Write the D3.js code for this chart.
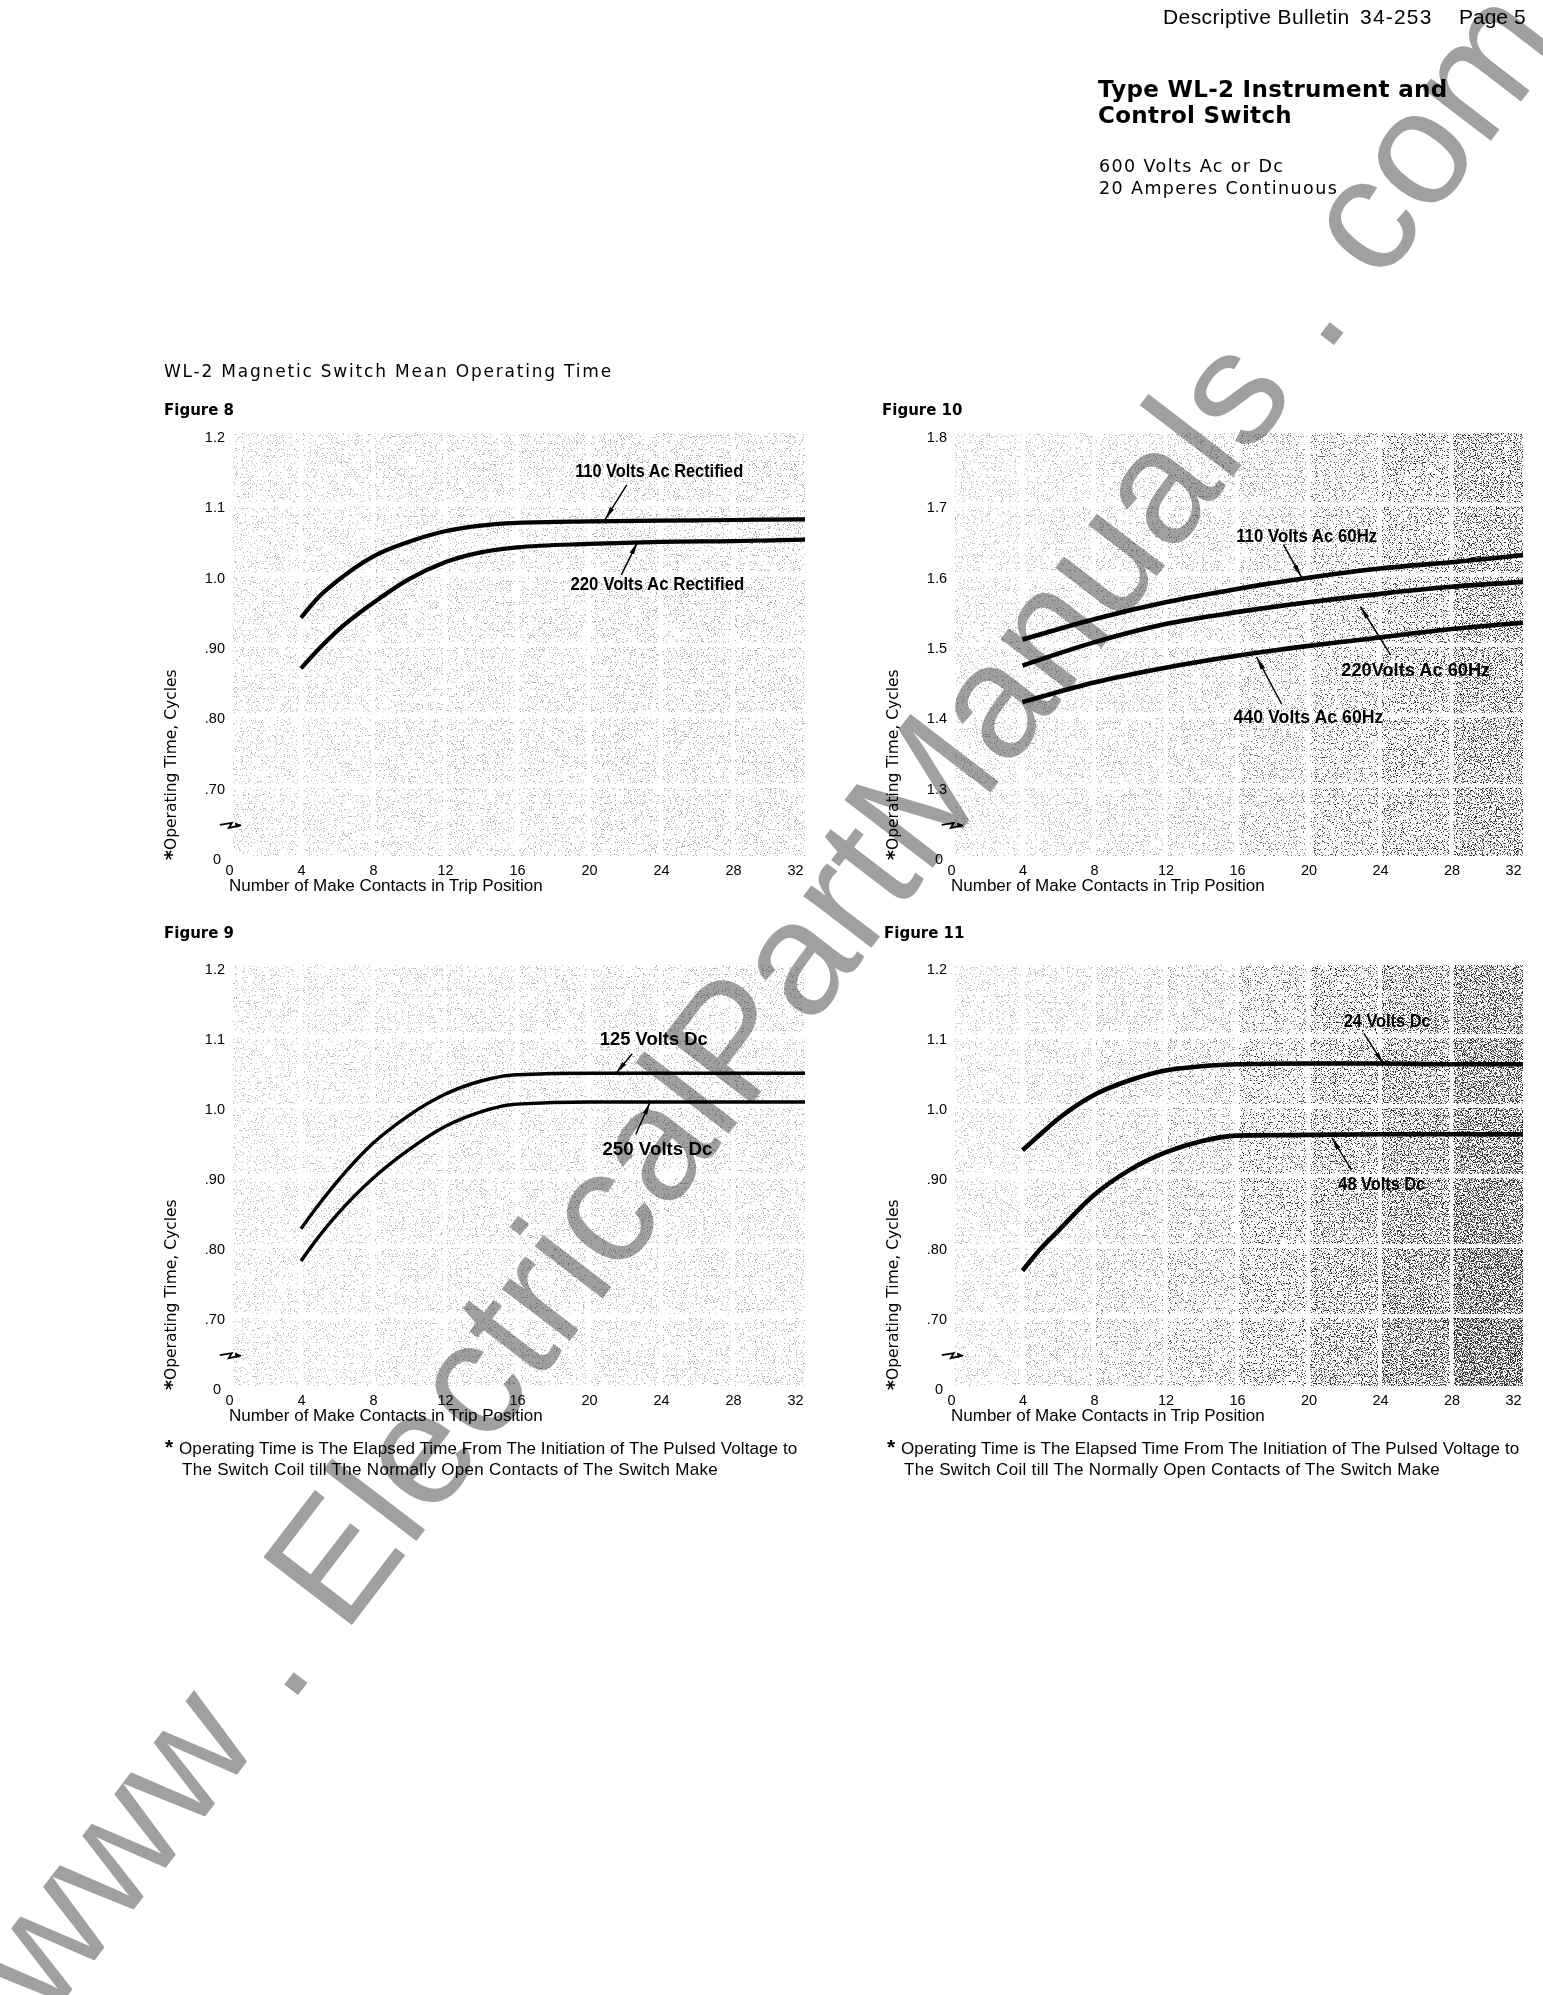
<!DOCTYPE html>
<html>
<head>
<meta charset="utf-8">
<script src="https://cdn.jsdelivr.net/npm/d3@7"></script>
<style>
  body { margin: 0; background: #fff; }
  svg text { fill: #000; }
  .tick text { font-family: "Liberation Sans", Arial, sans-serif; font-size: 14.5px; }
  .callout { font-family: "Liberation Sans", Arial, sans-serif; font-weight: bold; font-size: 18px; }
  .xtitle, .note, .helv { font-family: "Liberation Sans", Arial, sans-serif; }
  .wide { font-family: "DejaVu Sans", sans-serif; }
</style>
</head>
<body>
<svg id="page"></svg>
<script>
// Axis ticks shared by all four figures
var contactTicks = [0, 4, 8, 12, 16, 20, 24, 28, 32];
var lowTicks = [0.6, 0.7, 0.8, 0.9, 1.0, 1.1, 1.2];
var lowTickLabels = ["0", ".70", ".80", ".90", "1.0", "1.1", "1.2"];
var highTicks = [1.2, 1.3, 1.4, 1.5, 1.6, 1.7, 1.8];
var highTickLabels = ["0", "1.3", "1.4", "1.5", "1.6", "1.7", "1.8"];

// Figure 8 - rectified ac
var fig8Contacts = [4, 5, 6, 8, 10, 12, 14, 16, 20, 24, 28, 32];
var fig8Volts110 = [0.943, 0.973, 0.995, 1.030, 1.051, 1.066, 1.074, 1.078, 1.080, 1.081, 1.082, 1.083];
var fig8Volts220 = [0.871, 0.899, 0.924, 0.964, 0.998, 1.022, 1.036, 1.043, 1.048, 1.051, 1.052, 1.054];

// Figure 9 - dc
var fig9Contacts = [4, 5, 6, 8, 10, 12, 14, 16, 20, 24, 28, 32];
var fig9Volts125 = [0.829, 0.864, 0.896, 0.951, 0.991, 1.021, 1.040, 1.049, 1.051, 1.051, 1.051, 1.051];
var fig9Volts250 = [0.783, 0.818, 0.849, 0.901, 0.942, 0.975, 0.996, 1.007, 1.010, 1.010, 1.010, 1.010];

// Figure 10 - ac 60 Hz
var fig10Contacts = [4, 8, 12, 16, 20, 24, 28, 32];
var fig10Volts110 = [1.512, 1.541, 1.565, 1.584, 1.600, 1.613, 1.622, 1.632];
var fig10Volts220 = [1.475, 1.508, 1.534, 1.551, 1.565, 1.577, 1.587, 1.594];
var fig10Volts440 = [1.423, 1.451, 1.472, 1.489, 1.503, 1.515, 1.527, 1.536];

// Figure 11 - low voltage dc
var fig11Contacts = [4, 5, 6, 8, 10, 12, 14, 16, 20, 24, 28, 32];
var fig11Volts24 = [0.941, 0.964, 0.986, 1.020, 1.041, 1.055, 1.061, 1.064, 1.065, 1.065, 1.064, 1.064];
var fig11Volts48 = [0.769, 0.800, 0.826, 0.877, 0.913, 0.938, 0.954, 0.962, 0.963, 0.964, 0.964, 0.964];

var footnoteLines = [
  "Operating Time is The Elapsed Time From The Initiation of The Pulsed Voltage to",
  "The Switch Coil till The Normally Open Contacts of The Switch Make"
];

function zipSeries(xs, ys) {
  return xs.map(function(x, i) { return [x, ys[i]]; });
}

var figures = [
  {
    name: "Figure 8", labelX: 164, labelY: 415,
    left: 229, right: 805, top: 437, bottom: 859,
    domain: [0.6, 1.2], ticks: lowTicks, labels: lowTickLabels, stroke: 4.2,
    shade: [0.07, 0.07, 0.075, 0.08, 0.08, 0.085, 0.085, 0.085], rowShade: 0,
    series: [zipSeries(fig8Contacts, fig8Volts110), zipSeries(fig8Contacts, fig8Volts220)],
    callouts: [
      { text: "110 Volts Ac Rectified", width: 168, at: [23.9, 1.152], from: [22.1, 1.132], to: [20.9, 1.083] },
      { text: "220 Volts Ac Rectified", width: 174, at: [23.8, 0.991], from: [21.8, 1.004], to: [22.7, 1.051] }
    ],
    footnote: false
  },
  {
    name: "Figure 9", labelX: 164, labelY: 938,
    left: 229, right: 805, top: 969, bottom: 1389,
    domain: [0.6, 1.2], ticks: lowTicks, labels: lowTickLabels, stroke: 3.4,
    shade: [0.065, 0.065, 0.07, 0.075, 0.075, 0.08, 0.08, 0.08], rowShade: 0,
    series: [zipSeries(fig9Contacts, fig9Volts125), zipSeries(fig9Contacts, fig9Volts250)],
    callouts: [
      { text: "125 Volts Dc", width: 108, at: [23.6, 1.101], from: [22.4, 1.079], to: [21.5, 1.051] },
      { text: "250 Volts Dc", width: 110, at: [23.8, 0.943], from: [22.6, 0.964], to: [23.4, 1.010] }
    ],
    footnote: true
  },
  {
    name: "Figure 10", labelX: 882, labelY: 415,
    left: 951, right: 1523, top: 437, bottom: 859,
    domain: [1.2, 1.8], ticks: highTicks, labels: highTickLabels, stroke: 4.6,
    shade: [0.07, 0.075, 0.08, 0.09, 0.12, 0.16, 0.23, 0.34], rowShade: 0.03,
    series: [zipSeries(fig10Contacts, fig10Volts110), zipSeries(fig10Contacts, fig10Volts220), zipSeries(fig10Contacts, fig10Volts440)],
    callouts: [
      { text: "110 Volts Ac 60Hz", width: 141, at: [19.9, 1.660], from: [18.6, 1.647], to: [19.6, 1.601] },
      { text: "220Volts Ac 60Hz", width: 149, at: [26.0, 1.470], from: [24.6, 1.490], to: [22.9, 1.559] },
      { text: "440 Volts Ac 60Hz", width: 150, at: [20.0, 1.403], from: [18.5, 1.420], to: [17.1, 1.487] }
    ],
    footnote: false
  },
  {
    name: "Figure 11", labelX: 884, labelY: 938,
    left: 951, right: 1523, top: 969, bottom: 1389,
    domain: [0.6, 1.2], ticks: lowTicks, labels: lowTickLabels, stroke: 4.6,
    shade: [0.07, 0.08, 0.09, 0.11, 0.17, 0.26, 0.36, 0.46], rowShade: 0.12,
    series: [zipSeries(fig11Contacts, fig11Volts24), zipSeries(fig11Contacts, fig11Volts48)],
    callouts: [
      { text: "24 Volts Dc", width: 87, at: [24.4, 1.126], from: [23.1, 1.108], to: [24.2, 1.064] },
      { text: "48 Volts Dc", width: 87, at: [24.1, 0.893], from: [22.4, 0.913], to: [21.3, 0.959] }
    ],
    footnote: true
  }
];

var svg = d3.select("#page")
  .attr("width", 1543)
  .attr("height", 1995);

var defs = svg.append("defs");

// Stipple screen: noise thresholded against the alpha of each shaded cell
var stipple = defs.append("filter")
  .attr("id", "stipple")
  .attr("x", 0).attr("y", 0).attr("width", 1).attr("height", 1)
  .attr("color-interpolation-filters", "sRGB");
stipple.append("feTurbulence")
  .attr("type", "fractalNoise")
  .attr("baseFrequency", 0.85)
  .attr("numOctaves", 2)
  .attr("seed", 7)
  .attr("result", "noise");
stipple.append("feColorMatrix")
  .attr("in", "noise")
  .attr("type", "matrix")
  .attr("values", "0 0 0 0 0  0 0 0 0 0  0 0 0 0 0  3 0 0 0 -1")
  .attr("result", "grain");
stipple.append("feComposite")
  .attr("in", "SourceAlpha").attr("in2", "grain")
  .attr("operator", "arithmetic")
  .attr("k1", 0).attr("k2", 1).attr("k3", -1).attr("k4", 0)
  .attr("result", "diff");
stipple.append("feComponentTransfer")
  .attr("in", "diff")
  .attr("result", "dots")
  .append("feFuncA").attr("type", "linear").attr("slope", 5).attr("intercept", 0);
stipple.append("feFlood").attr("flood-color", "#333").attr("result", "ink");
stipple.append("feComposite").attr("in", "ink").attr("in2", "dots").attr("operator", "in");

// Narrow arrow head for the curve callouts
defs.append("marker")
  .attr("id", "barb")
  .attr("viewBox", "0 0 13 6")
  .attr("refX", 13).attr("refY", 3)
  .attr("markerWidth", 13).attr("markerHeight", 6)
  .attr("markerUnits", "userSpaceOnUse")
  .attr("orient", "auto")
  .append("path")
  .attr("d", "M0,0.6 L13,3 L0,5.4 Z")
  .attr("fill", "#000");

// Page header
var header = svg.append("g");
header.append("text").attr("class", "helv").attr("x", 1163).attr("y", 24).attr("font-size", 21)
  .attr("letter-spacing", 0.4).text("Descriptive Bulletin");
header.append("text").attr("class", "helv").attr("x", 1360).attr("y", 24).attr("font-size", 21)
  .attr("letter-spacing", 1.2).text("34-253");
header.append("text").attr("class", "helv").attr("x", 1459).attr("y", 24).attr("font-size", 21)
  .text("Page 5");
header.append("text").attr("class", "wide").attr("x", 1098).attr("y", 97).attr("font-size", 23)
  .attr("font-weight", "bold").attr("letter-spacing", 0.3).text("Type WL-2 Instrument and");
header.append("text").attr("class", "wide").attr("x", 1098).attr("y", 123).attr("font-size", 23)
  .attr("font-weight", "bold").attr("letter-spacing", 0.3).text("Control Switch");
header.append("text").attr("class", "wide").attr("x", 1099).attr("y", 172).attr("font-size", 17.5)
  .attr("letter-spacing", 1.4).text("600 Volts Ac or Dc");
header.append("text").attr("class", "wide").attr("x", 1099).attr("y", 194).attr("font-size", 17.5)
  .attr("letter-spacing", 1.4).text("20 Amperes Continuous");
header.append("text").attr("class", "wide").attr("x", 164).attr("y", 377).attr("font-size", 17)
  .attr("letter-spacing", 1.8).text("WL-2 Magnetic Switch Mean Operating Time");

function drawFigure(fig) {
  var x = d3.scaleLinear().domain([0, 32]).range([fig.left, fig.right]);
  var y = d3.scaleLinear().domain(fig.domain).range([fig.bottom, fig.top]);
  var step = (fig.domain[1] - fig.domain[0]) / 6;

  var g = svg.append("g");

  // Figure number
  g.append("text")
    .attr("class", "wide")
    .attr("x", fig.labelX)
    .attr("y", fig.labelY)
    .attr("font-size", 15)
    .attr("font-weight", "bold")
    .text(fig.name);

  // Screened background cells, with white gutters on the grid lines
  var cells = [];
  for (var c = 0; c < 8; c++) {
    for (var r = 0; r < 6; r++) {
      cells.push({ col: c, row: r });
    }
  }
  g.append("g")
    .attr("filter", "url(#stipple)")
    .selectAll("rect")
    .data(cells)
    .enter()
    .append("rect")
    .attr("x", function(d) { return x(d.col * 4) + (d.col === 0 ? 4 : 2); })
    .attr("width", function(d) {
      return x(d.col * 4 + 4) - x(d.col * 4) - (d.col === 0 ? 4 : 2) - (d.col === 7 ? 0 : 2);
    })
    .attr("y", function(d) { return y(fig.domain[1] - d.row * step) - 3 + (d.row === 0 ? -1 : 2); })
    .attr("height", function(d) {
      return y(fig.domain[1] - (d.row + 1) * step) - y(fig.domain[1] - d.row * step)
        - (d.row === 0 ? -1 : 2) - (d.row === 5 ? 0 : 2);
    })
    .attr("fill", "#000")
    .attr("fill-opacity", function(d) {
      return fig.shade[d.col] + fig.rowShade * (d.row / 5) * (d.col / 7);
    });

  // Axes
  var yAxis = d3.axisLeft(y)
    .tickValues(fig.ticks)
    .tickFormat(function(d, i) { return fig.labels[i]; })
    .tickSize(0)
    .tickPadding(4);
  var yg = g.append("g")
    .attr("transform", "translate(" + fig.left + ",0)")
    .call(yAxis);
  yg.select(".domain").remove();
  yg.selectAll(".tick text")
    .attr("dx", function(d, i) { return i === 0 ? -4 : 0; });

  var xAxis = d3.axisBottom(x)
    .tickValues(contactTicks)
    .tickSize(0)
    .tickPadding(6);
  var xg = g.append("g")
    .attr("transform", "translate(0," + fig.bottom + ")")
    .call(xAxis);
  xg.select(".domain").remove();
  xg.selectAll(".tick text")
    .attr("dx", function(d) { return d === 32 ? -10 : 0; });

  // Axis break mark on the y axis
  var brk = g.append("g")
    .attr("transform", "translate(" + x(0.1) + "," + y(fig.domain[0] + step * 0.47) + ")");
  brk.append("path")
    .attr("d", "M-11,-1 L1,-3 L-2,2 L10,-0.5")
    .attr("fill", "none")
    .attr("stroke", "#000")
    .attr("stroke-width", 1.8);
  brk.append("path")
    .attr("d", "M11,-0.7 L4,-3.5 L5,1.8 Z")
    .attr("fill", "#000");

  // Axis titles
  g.append("text")
    .attr("class", "xtitle")
    .attr("x", fig.left)
    .attr("y", fig.bottom + 32)
    .attr("font-size", 17)
    .text("Number of Make Contacts in Trip Position");

  var yt = g.append("text")
    .attr("class", "wide")
    .attr("transform", "translate(" + (fig.left - 53) + "," + (fig.bottom + 1) + ") rotate(-90)")
    .attr("font-size", 15.5);
  yt.append("tspan").attr("font-weight", "bold").attr("font-size", 19).attr("dy", 2).text("*");
  yt.append("tspan").attr("dy", -2).text("Operating Time, Cycles");

  // Curves
  var line = d3.line()
    .x(function(d) { return x(d[0]); })
    .y(function(d) { return y(d[1]); })
    .curve(d3.curveMonotoneX);

  g.selectAll(".curve")
    .data(fig.series)
    .enter()
    .append("path")
    .attr("class", "curve")
    .attr("d", line)
    .attr("fill", "none")
    .attr("stroke", "#000")
    .attr("stroke-width", fig.stroke);

  // Callout labels with arrows
  g.selectAll(".arrow")
    .data(fig.callouts)
    .enter()
    .append("line")
    .attr("class", "arrow")
    .attr("x1", function(d) { return x(d.from[0]); })
    .attr("y1", function(d) { return y(d.from[1]); })
    .attr("x2", function(d) { return x(d.to[0]); })
    .attr("y2", function(d) { return y(d.to[1]); })
    .attr("stroke", "#000")
    .attr("stroke-width", 1.5)
    .attr("marker-end", "url(#barb)");

  g.selectAll(".callout")
    .data(fig.callouts)
    .enter()
    .append("text")
    .attr("class", "callout")
    .attr("x", function(d) { return x(d.at[0]); })
    .attr("y", function(d) { return y(d.at[1]); })
    .attr("dy", "0.36em")
    .attr("text-anchor", "middle")
    .attr("textLength", function(d) { return d.width; })
    .attr("lengthAdjust", "spacingAndGlyphs")
    .text(function(d) { return d.text; });

  // Footnote under the lower figures
  if (fig.footnote) {
    g.append("text")
      .attr("class", "note")
      .attr("x", fig.left - 64)
      .attr("y", fig.bottom + 65)
      .attr("font-size", 21)
      .attr("font-weight", "bold")
      .text("*");
    g.selectAll(".note-line")
      .data(footnoteLines)
      .enter()
      .append("text")
      .attr("class", "note note-line")
      .attr("x", function(d, i) { return fig.left - (i === 0 ? 50 : 47); })
      .attr("y", function(d, i) { return fig.bottom + 65 + i * 21; })
      .attr("font-size", 17)
      .attr("letter-spacing", function(d, i) { return i === 0 ? 0.1 : 0.3; })
      .text(function(d) { return d; });
  }
}

figures.forEach(drawFigure);

// Site watermark laid over the page
svg.append("text")
  .attr("transform", "translate(48,2021) rotate(-52.5)")
  .attr("font-family", "Liberation Sans, Arial, sans-serif")
  .attr("font-size", 162)
  .style("fill", "#a0a0a0")
  .style("mix-blend-mode", "multiply")
  .text("www . ElectricalPartManuals . com");
</script>
</body>
</html>
